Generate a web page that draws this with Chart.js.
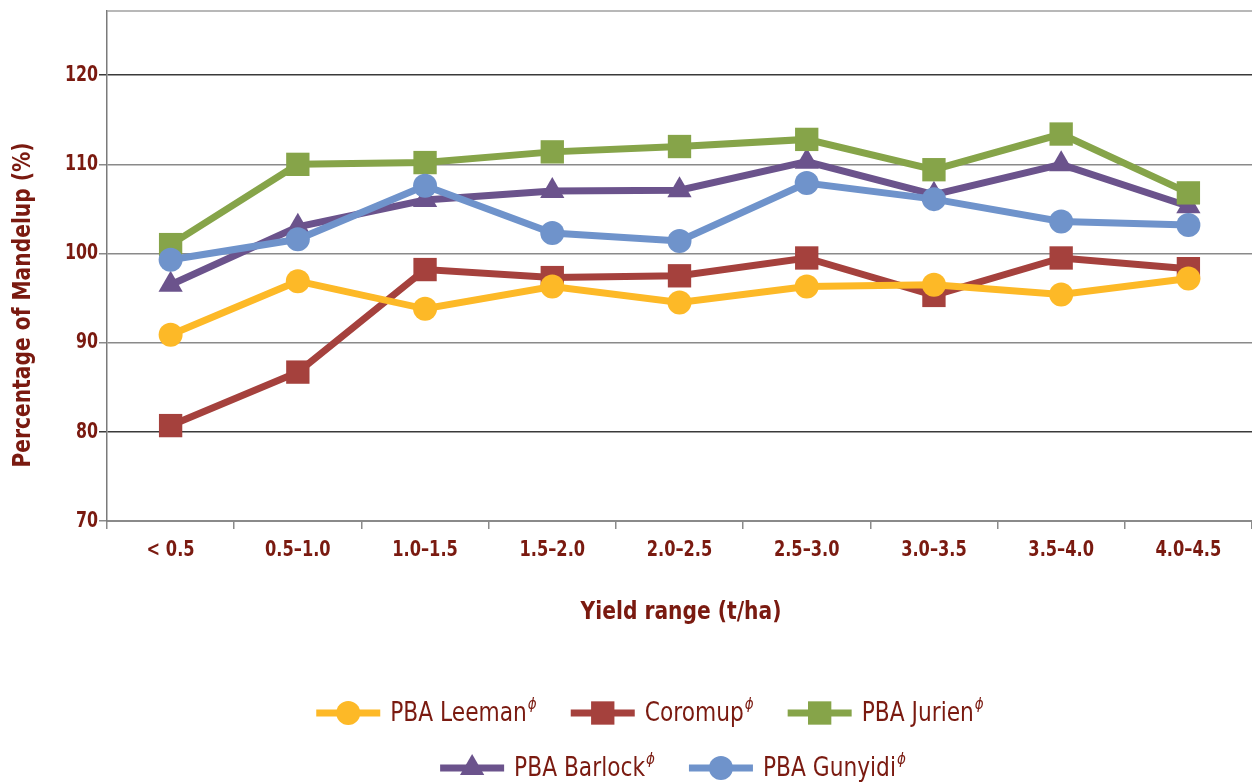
<!DOCTYPE html>
<html>
<head>
<meta charset="utf-8">
<script src="https://cdn.jsdelivr.net/npm/chart.js@4.4.1/dist/chart.umd.min.js"></script>
<style>
  html, body { margin: 0; padding: 0; background: #fff; }
</style>
</head>
<body>
<canvas id="chart" width="1252" height="783"></canvas>
<script>
// Yield categories (t/ha)
const yieldRanges = ['< 0.5', '0.5\u20131.0', '1.0\u20131.5', '1.5\u20132.0', '2.0\u20132.5',
  '2.5\u20133.0', '3.0\u20133.5', '3.5\u20134.0', '4.0\u20134.5'];

// Percentage of Mandelup for each variety
const leeman  = [90.9, 96.9, 93.8, 96.3, 94.5, 96.3, 96.5, 95.4, 97.2];
const coromup = [80.7, 86.7, 98.2, 97.3, 97.5, 99.5, 95.3, 99.5, 98.3];
const jurien  = [101.0, 110.0, 110.2, 111.4, 112.0, 112.8, 109.4, 113.4, 106.8];
const barlock = [96.5, 103.0, 106.0, 107.0, 107.1, 110.3, 106.6, 110.0, 105.3];
const gunyidi = [99.3, 101.6, 107.6, 102.3, 101.4, 107.9, 106.1, 103.6, 103.2];

// Axis
const yTicks = [70, 80, 90, 100, 110, 120];
const yMin = 70;
const yMax = 127.2;

const TEXT_COLOR = '#7a1a10';
const FONT = "'DejaVu Sans Condensed', 'DejaVu Sans', sans-serif";
const PBR = '\u03d5';

function series(label, data, color, pointStyle, radius, order) {
  return {
    label: label,
    data: data,
    borderColor: color,
    backgroundColor: color,
    pointBackgroundColor: color,
    pointBorderColor: color,
    pointBorderWidth: 0,
    borderWidth: 7,
    pointStyle: pointStyle,
    pointRadius: radius,
    pointHoverRadius: radius,
    tension: 0,
    clip: false,
    order: order
  };
}

// Text squeezed horizontally to get closer to the condensed face of the original
function squeezedText(ctx, text, x, y, font, sx, align) {
  ctx.save();
  ctx.font = font;
  ctx.textAlign = align || 'center';
  ctx.textBaseline = 'middle';
  ctx.translate(x, y);
  ctx.scale(sx, 1);
  ctx.fillText(text, 0, 0);
  ctx.restore();
}

function squeezedWidth(ctx, text, font, sx) {
  ctx.save();
  ctx.font = font;
  const w = ctx.measureText(text).width * sx;
  ctx.restore();
  return w;
}

// Draw one marker (used for the legend)
function drawMarker(ctx, style, x, y, r, color) {
  ctx.fillStyle = color;
  ctx.beginPath();
  if (style === 'circle') {
    ctx.arc(x, y, r, 0, Math.PI * 2);
  } else if (style === 'rect') {
    const s = Math.SQRT1_2 * r;
    ctx.rect(x - s, y - s, 2 * s, 2 * s);
  } else if (style === 'triangle') {
    const a = Math.PI * 2 / 3;
    ctx.moveTo(x, y - r);
    ctx.lineTo(x + r * Math.sin(a), y - r * Math.cos(a));
    ctx.lineTo(x - r * Math.sin(a), y - r * Math.cos(a));
    ctx.closePath();
  }
  ctx.fill();
}

// Tick labels, titles, top frame line and the two-row legend
const decorPlugin = {
  id: 'decor',
  afterDraw(chart) {
    const ctx = chart.ctx;
    const area = chart.chartArea;
    const xScale = chart.scales.x;
    const yScale = chart.scales.y;
    ctx.save();

    // top frame
    ctx.strokeStyle = '#a0a0a0';
    ctx.lineWidth = 1.5;
    ctx.beginPath();
    ctx.moveTo(area.left, area.top);
    ctx.lineTo(area.right, area.top);
    ctx.stroke();

    ctx.fillStyle = TEXT_COLOR;

    // tick labels
    const tickFont = 'bold 22px ' + FONT;
    yScale.ticks.forEach(t => {
      squeezedText(ctx, String(t.value), yScale.right - 9, yScale.getPixelForValue(t.value), tickFont, 0.8, 'right');
    });
    yieldRanges.forEach((lab, i) => {
      squeezedText(ctx, lab, xScale.getPixelForValue(i), 550, tickFont, 0.82, 'center');
    });

    // axis titles
    squeezedText(ctx, 'Yield range (t/ha)', 681, 612, 'bold 25px ' + FONT, 0.9, 'center');
    ctx.save();
    ctx.translate(23, 305);
    ctx.rotate(-Math.PI / 2);
    squeezedText(ctx, 'Percentage of Mandelup (%)', 0, 0, 'bold 25px ' + FONT, 0.9, 'center');
    ctx.restore();

    // legend
    const rows = [[0, 1, 2], [3, 4]];
    const rowY = [713, 768];
    const rowCenter = [650, 673];
    const lineLen = 64;
    const gap = 34;
    const ds = chart.data.datasets;
    const textFont = '26px ' + FONT;
    const supFont = 'italic 15px ' + FONT;
    const sx = 0.93;

    rows.forEach((row, ri) => {
      const widths = row.map(i => {
        const tw = squeezedWidth(ctx, ds[i].label, textFont, sx);
        const sw = squeezedWidth(ctx, PBR, supFont, 1);
        return { tw, sw, total: lineLen + 10 + tw + 1 + sw };
      });
      const total = widths.reduce((a, w) => a + w.total, 0) + gap * (row.length - 1);
      let x = rowCenter[ri] - total / 2;
      const y = rowY[ri];
      row.forEach((i, k) => {
        const d = ds[i];
        ctx.strokeStyle = d.borderColor;
        ctx.lineWidth = 7;
        ctx.beginPath();
        ctx.moveTo(x, y);
        ctx.lineTo(x + lineLen, y);
        ctx.stroke();
        drawMarker(ctx, d.pointStyle, x + lineLen / 2, y, d.pointRadius, d.borderColor);

        ctx.fillStyle = TEXT_COLOR;
        squeezedText(ctx, d.label, x + lineLen + 10, y + 1, textFont, sx, 'left');
        squeezedText(ctx, PBR, x + lineLen + 10 + widths[k].tw + 1, y - 8, supFont, 1, 'left');
        x += widths[k].total + gap;
      });
    });

    ctx.restore();
  }
};

const canvas = document.getElementById('chart');
const chart = new Chart(canvas.getContext('2d'), {
  type: 'line',
  data: {
    labels: yieldRanges,
    datasets: [
      series('PBA Leeman', leeman, '#fdb927', 'circle', 12, 2),
      series('Coromup', coromup, '#a5413d', 'rect', 16.5, 4),
      series('PBA Jurien', jurien, '#86a449', 'rect', 16.5, 3),
      series('PBA Barlock', barlock, '#6b538c', 'triangle', 14, 5),
      series('PBA Gunyidi', gunyidi, '#6f93cb', 'circle', 12, 1)
    ]
  },
  options: {
    responsive: false,
    animation: false,
    events: [],
    layout: { autoPadding: false, padding: { top: 11, right: -4, left: 0, bottom: 0 } },
    plugins: {
      legend: { display: false },
      tooltip: { enabled: false },
      title: { display: false }
    },
    scales: {
      x: {
        offset: true,
        grid: {
          offset: true,
          drawOnChartArea: false,
          drawTicks: true,
          tickLength: 8,
          color: '#8a8a8a',
          lineWidth: 1.5
        },
        border: { color: '#8a8a8a', width: 2 },
        ticks: { display: false, autoSkip: false },
        afterFit: function(scale) {
          scale.height = 262;
          scale.paddingLeft = 0;
          scale.paddingRight = 0;
        }
      },
      y: {
        min: yMin,
        max: yMax,
        afterBuildTicks: function(scale) {
          scale.ticks = yTicks.map(v => ({ value: v }));
        },
        grid: {
          color: function(c) {
            const v = c.tick && c.tick.value;
            return (v === 120 || v === 80) ? '#3a3a3a' : '#8a8a8a';
          },
          lineWidth: 1.5,
          drawTicks: true,
          tickLength: 8
        },
        border: { color: '#7a7a7a', width: 1.5 },
        ticks: { display: false },
        afterFit: function(scale) {
          scale.width = 107;
          scale.paddingTop = 0;
          scale.paddingBottom = 0;
        }
      }
    }
  },
  plugins: [decorPlugin]
});
</script>
</body>
</html>
